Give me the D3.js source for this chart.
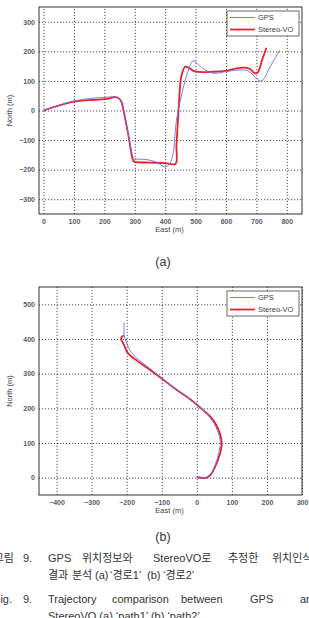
<!DOCTYPE html>
<html>
<head>
<meta charset="utf-8">
<script src="https://cdn.jsdelivr.net/npm/d3@7"></script>
<style>
  body { margin: 0; background: #fff; }
  svg { display: block; }
  .tick text { font-family: "Liberation Sans", Arial, sans-serif; font-size: 7px; font-weight: bold; fill: #5a5a6e; }
  .grid line { stroke: #222; stroke-dasharray: 1.2,1.8; stroke-width: 0.8; }
  .grid path { display: none; }
  .lbl { font-family: "Liberation Sans", Arial, sans-serif; font-size: 7.5px; fill: #444; }
  .cap { font-family: "Liberation Sans", "Noto Sans CJK KR", sans-serif; font-size: 11px; fill: #333; }
</style>
</head>
<body>
<svg id="chart" width="309" height="618"></svg>
<script>
const svg = d3.select("#chart");

// ---- data (East, North) in metres ----
// path 1
const gpsPath1 = [[0,0],[100,32],[207,45],[240,45],[251,36],[262,0],[278,-80],[295,-158],[300,-163],
  [339,-166],[372,-175],[399,-191],[415,-180],[426,-146],[437,-34],[457,67],[476,135],[492,168],
  [520,145],[558,126],[602,132],[646,137],[673,134],[695,114],[712,100],[722,104],[744,146],[777,204]];
const voPath1 = [[0,0],[100,30],[207,39],[234,45],[245,43],[256,30],[262,5],[278,-78],[295,-170],
  [300,-174],[350,-176],[400,-178],[434,-180],[437,-120],[440,-67],[444,0],[448,70],[452,110],
  [457,130],[465,148],[476,145],[498,132],[558,131],[602,135],[624,140],[657,145],[678,141],
  [695,126],[705,130],[720,175],[733,212]];
// path 2
const gpsPath2 = [[0,0],[25,0],[40,10],[50,30],[62,69],[67,100],[62,127],[44,165],[17,196],[-20,226],
  [-57,254],[-100,287],[-135,316],[-170,344],[-190,366],[-201,392],[-207,411],[-207,447]];
const voPath2 = [[0,2],[24,-1],[38,7],[52,31],[66,69],[71,98],[66,127],[47,166],[19,194],[-19,226],
  [-57,253],[-100,286],[-135,312],[-170,337],[-197,360],[-208,384],[-216,402],[-208,411]];

const ticksX1 = [0,100,200,300,400,500,600,700,800];
const ticksY1 = [-300,-200,-100,0,100,200,300];
const ticksX2 = [-400,-300,-200,-100,0,100,200,300];
const ticksY2 = [0,100,200,300,400,500];
const seriesNames = ["GPS", "Stereo-VO"];

function drawPanel(cfg) {
  const x = d3.scaleLinear().domain(cfg.xDomain).range([cfg.left, cfg.right]);
  const y = d3.scaleLinear().domain(cfg.yDomain).range([cfg.bottom, cfg.top]);
  const w = cfg.right - cfg.left, h = cfg.bottom - cfg.top;
  const g = svg.append("g");

  // grid
  g.append("g").attr("class", "grid")
    .attr("transform", `translate(0,${cfg.bottom})`)
    .call(d3.axisBottom(x).tickValues(cfg.ticksX).tickSize(-h).tickFormat(""));
  g.append("g").attr("class", "grid")
    .attr("transform", `translate(${cfg.left},0)`)
    .call(d3.axisLeft(y).tickValues(cfg.ticksY).tickSize(-w).tickFormat(""));

  // tick labels
  const ax = g.append("g").attr("transform", `translate(0,${cfg.bottom})`)
    .call(d3.axisBottom(x).tickValues(cfg.ticksX).tickSize(0).tickPadding(5));
  ax.select(".domain").remove();
  const ay = g.append("g").attr("transform", `translate(${cfg.left},0)`)
    .call(d3.axisLeft(y).tickValues(cfg.ticksY).tickSize(0).tickPadding(4));
  ay.select(".domain").remove();

  // frame
  g.append("rect").attr("x", cfg.left).attr("y", cfg.top).attr("width", w).attr("height", h)
    .attr("fill", "none").attr("stroke", "#333").attr("stroke-width", 1);

  const line = d3.line().x(d => x(d[0])).y(d => y(d[1])).curve(d3.curveCatmullRom.alpha(0.5));
  g.append("path").datum(cfg.vo).attr("d", line)
    .attr("fill", "none").attr("stroke", "#e8222c").attr("stroke-width", 1.8).attr("stroke-linejoin", "round");
  g.append("path").datum(cfg.gps).attr("d", line)
    .attr("fill", "none").attr("stroke", "#6a6af0").attr("stroke-width", 0.9).attr("stroke-linejoin", "round");

  // axis titles
  g.append("text").attr("class", "lbl").attr("x", (cfg.left + cfg.right) / 2 - 1).attr("y", cfg.bottom + 18)
    .attr("text-anchor", "middle").text("East (m)");
  g.append("text").attr("class", "lbl")
    .attr("transform", `translate(12,${(cfg.top + cfg.bottom) / 2}) rotate(-90)`)
    .attr("text-anchor", "middle").text("North (m)");

  // legend
  const lg = g.append("g").attr("transform", `translate(${cfg.right - 75},${cfg.top + 4})`);
  lg.append("rect").attr("width", 72).attr("height", 25).attr("fill", "#fff")
    .attr("stroke", "#444").attr("stroke-width", 0.8);
  const colors = ["#6a6af0", "#e8222c"], widths = [0.9, 1.8];
  seriesNames.forEach((n, i) => {
    const yy = 6.5 + i * 12;
    lg.append("line").attr("x1", 3).attr("x2", 28).attr("y1", yy).attr("y2", yy)
      .attr("stroke", colors[i]).attr("stroke-width", widths[i]);
    lg.append("text").attr("class", "lbl").attr("x", 31).attr("y", yy + 2.7).text(n);
  });

  svg.append("text").attr("class", "cap").attr("x", 163).attr("y", cfg.subY)
    .attr("text-anchor", "middle").style("font-size", "12.5px").text(cfg.sub);
}

drawPanel({ left: 39, right: 302, top: 7, bottom: 214, xDomain: [-15, 850], yDomain: [-350, 350],
  ticksX: ticksX1, ticksY: ticksY1, gps: gpsPath1, vo: voPath1, sub: "(a)", subY: 266 });
drawPanel({ left: 39, right: 302, top: 287, bottom: 495, xDomain: [-450, 300], yDomain: [-50, 550],
  ticksX: ticksX2, ticksY: ticksY2, gps: gpsPath2, vo: voPath2, sub: "(b)", subY: 541 });

// caption (justified lines, overflowing the page edges as in the scan)
const capLines = [
  { y: 562, words: [["그림", 14, "end"], ["9.", 23], ["GPS", 48], ["위치정보와", 82], ["StereoVO로", 153], ["추정한", 228], ["위치인식", 272]] },
  { y: 579, words: [["결과", 48], ["분석", 72], ["(a)", 95], ["‘경로1’", 110], ["(b)", 147], ["‘경로2’", 163]] },
  { y: 603, words: [["Fig.", 12, "end"], ["9.", 23], ["Trajectory", 48], ["comparison", 112], ["between", 181], ["GPS", 250], ["and", 300]] },
  { y: 620, words: [["StereoVO (a) ‘path1’ (b) ‘path2’", 48]] }
];
capLines.forEach(l => {
  l.words.forEach(wd => {
    svg.append("text").attr("class", "cap").attr("x", wd[1]).attr("y", l.y)
      .attr("text-anchor", wd[2] || "start").text(wd[0]);
  });
});
</script>
</body>
</html>
